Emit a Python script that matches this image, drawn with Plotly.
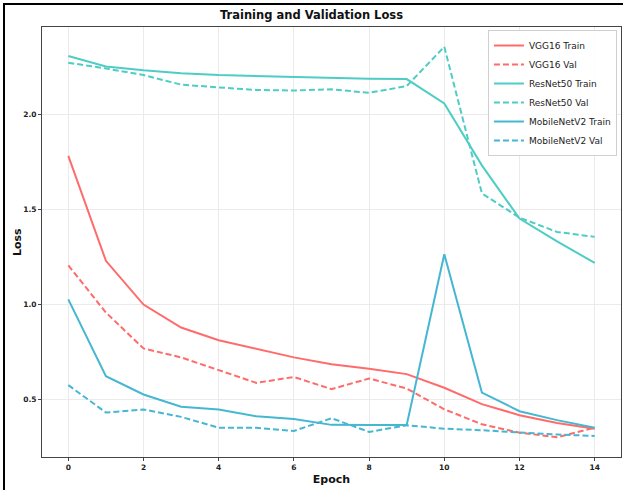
import plotly.graph_objects as go

epochs = list(range(15))
vgg_train = [1.78, 1.228, 0.998, 0.877, 0.81, 0.763, 0.72, 0.684, 0.66, 0.632, 0.56, 0.474, 0.416, 0.375, 0.345]
vgg_val = [1.204, 0.956, 0.767, 0.72, 0.653, 0.586, 0.617, 0.553, 0.609, 0.556, 0.447, 0.368, 0.324, 0.30, 0.35]
resnet_train = [2.305, 2.25, 2.23, 2.215, 2.205, 2.2, 2.195, 2.19, 2.186, 2.184, 2.056, 1.73, 1.45, 1.33, 1.217]
resnet_val = [2.27, 2.24, 2.205, 2.155, 2.14, 2.127, 2.124, 2.13, 2.112, 2.147, 2.354, 1.583, 1.455, 1.38, 1.354]
mobile_train = [1.025, 0.621, 0.525, 0.46, 0.446, 0.41, 0.396, 0.365, 0.364, 0.364, 1.263, 0.535, 0.437, 0.39, 0.35]
mobile_val = [0.574, 0.43, 0.446, 0.407, 0.35, 0.35, 0.333, 0.40, 0.328, 0.363, 0.345, 0.337, 0.325, 0.314, 0.307]

series = [
    ("VGG16 Train", vgg_train, "#FF6B6B", "solid"),
    ("VGG16 Val", vgg_val, "#FF6B6B", "6px,3px"),
    ("ResNet50 Train", resnet_train, "#4ECDC4", "solid"),
    ("ResNet50 Val", resnet_val, "#4ECDC4", "6px,3px"),
    ("MobileNetV2 Train", mobile_train, "#45B7D1", "solid"),
    ("MobileNetV2 Val", mobile_val, "#45B7D1", "6px,3px"),
]

fig = go.Figure()
for name, vals, color, dash in series:
    fig.add_trace(go.Scatter(x=epochs, y=vals, name=name, mode="lines",
                             line=dict(color=color, width=2, dash=dash)))

font_family = "DejaVu Sans"
W, H = 623, 490
ml, mr, mt, mb = 42, 2, 27, 33
pw, ph = W - ml - mr, H - mt - mb

fig.update_layout(
    width=W, height=H,
    margin=dict(l=ml, r=mr, t=mt, b=mb, autoexpand=False),
    paper_bgcolor="white", plot_bgcolor="white",
    title=dict(text="<b>Training and Validation Loss</b>", x=0.5, xanchor="center",
               y=1 - 15 / H, yanchor="middle", automargin=False,
               font=dict(family=font_family, size=11.5, color="#111")),
    font=dict(family=font_family, color="#222"),
    legend=dict(x=0.993, xanchor="right", y=0.993, yanchor="top",
                bgcolor="rgba(255,255,255,0.9)", bordercolor="#d0d0d0", borderwidth=1,
                font=dict(size=9, color="#222"), tracegroupgap=0, itemwidth=30),
    showlegend=True,
)
fig.update_xaxes(range=[-0.7, 14.7], tickvals=[0, 2, 4, 6, 8, 10, 12, 14], automargin=False,
                 showgrid=True, gridcolor="#ebebeb", gridwidth=1,
                 showline=True, linecolor="#444", linewidth=1, mirror=True,
                 ticks="outside", ticklen=3, tickcolor="#444", zeroline=False,
                 tickfont=dict(size=7.5, weight="bold", color="#222"),
                 title=dict(text="<b>Epoch</b>", font=dict(size=11, color="#111"), standoff=4))
fig.update_yaxes(range=[0.196, 2.458], tickvals=[0.5, 1.0, 1.5, 2.0], ticktext=["0.5", "1.0", "1.5", "2.0"],
                 automargin=False,
                 showgrid=True, gridcolor="#ebebeb", gridwidth=1,
                 showline=True, linecolor="#444", linewidth=1, mirror=True,
                 ticks="outside", ticklen=3, tickcolor="#444", zeroline=False,
                 tickfont=dict(size=7.5, weight="bold", color="#222"))

fig.add_annotation(text="<b>Loss</b>", xref="paper", yref="paper", x=(17 - ml) / pw, y=0.5,
                   xanchor="center", yanchor="middle", textangle=-90, showarrow=False,
                   font=dict(size=11, color="#111", family=font_family))

# outer black frame (left and top visible in reference)
x0 = (4 - ml) / pw
y_top = 1 + (mt - 4) / ph
x1 = (W + 5 - ml) / pw
y_bot = -(mb + 5) / ph
fig.add_shape(type="rect", xref="paper", yref="paper", x0=x0, x1=x1, y0=y_bot, y1=y_top,
              line=dict(color="black", width=2), layer="above")

fig.write_html("out.html", config={"displayModeBar": False},
               post_script="document.body.style.margin='0';document.body.style.overflow='hidden';")
